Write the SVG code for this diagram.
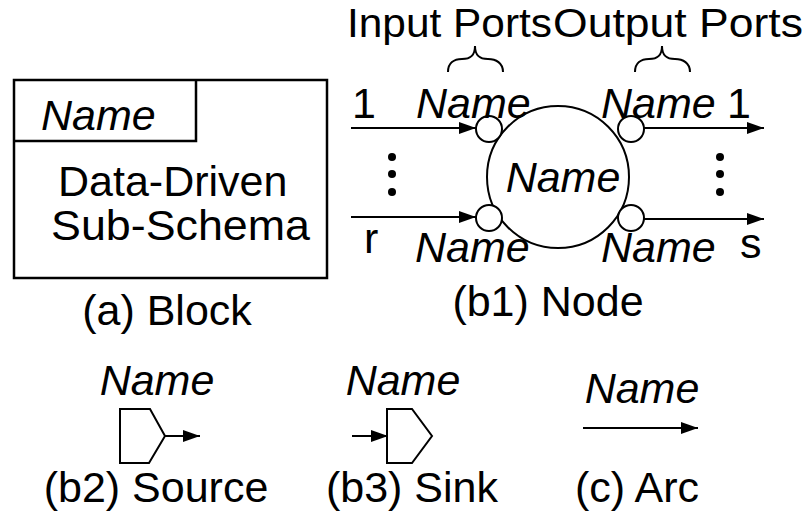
<svg xmlns="http://www.w3.org/2000/svg" width="808" height="512" viewBox="0 0 808 512">
  <style>
    text { font-family: "Liberation Sans", Arial, sans-serif; font-size: 43px; fill: #000; }
    .it { font-style: italic; }
    .mid { text-anchor: middle; }
    .head { font-size: 41px; }
    .ln { fill: none; stroke: #000; stroke-width: 2; }
    .shape { fill: #fff; stroke: #000; stroke-width: 2; }
    .arrow { fill: none; stroke: #000; stroke-width: 2; marker-end: url(#head); }
    .dot { fill: #000; }
  </style>
  <defs>
    <marker id="head" markerUnits="userSpaceOnUse" markerWidth="18" markerHeight="13" refX="17" refY="6.5" orient="auto">
      <path d="M0,0.5 L17,6.5 L0,12.5 z" fill="#000"/>
    </marker>
  </defs>

  <rect width="808" height="512" fill="#fff"/>

  <!-- (a) Block -->
  <g id="block">
    <rect x="14" y="80" width="313" height="198" fill="#fff" stroke="#000" stroke-width="2.5"/>
    <path d="M14,141 H196 V80" fill="none" stroke="#000" stroke-width="2.5"/>
    <text class="it" x="41" y="130">Name</text>
    <text x="58" y="196">Data-Driven</text>
    <text x="51" y="240" textLength="259" lengthAdjust="spacingAndGlyphs">Sub-Schema</text>
    <text class="mid" x="167" y="325">(a) Block</text>
  </g>

  <!-- (b1) Node -->
  <g id="node">
    <text class="head" x="347" y="37" textLength="205" lengthAdjust="spacingAndGlyphs">Input Ports</text>
    <text class="head" x="553" y="37" textLength="250" lengthAdjust="spacingAndGlyphs">Output Ports</text>
    <path class="ln" d="M448,72 C448,63 454,59 462,59 C470,59 475,56 475,46 C475,56 480,59 488,59 C496,59 503,63 503,72"/>
    <path class="ln" d="M635,72 C635,63 641,59 649,59 C657,59 662,56 662,46 C662,56 667,59 675,59 C683,59 690,63 690,72"/>
    <circle class="shape" cx="558" cy="177" r="71"/>
    <circle class="shape" cx="489" cy="129" r="13"/>
    <circle class="shape" cx="631" cy="129" r="13"/>
    <circle class="shape" cx="489" cy="218" r="13"/>
    <circle class="shape" cx="631" cy="218" r="13"/>
    <text class="it mid" x="563" y="192">Name</text>
    <text class="it" x="416" y="118">Name</text>
    <text class="it" x="601" y="118">Name</text>
    <text class="it" x="415" y="262">Name</text>
    <text class="it" x="601" y="262">Name</text>
    <text x="352" y="118">1</text>
    <text x="727" y="118">1</text>
    <text x="364" y="253">r</text>
    <text x="740" y="258">s</text>
    <circle class="dot" cx="392" cy="157" r="4"/>
    <circle class="dot" cx="392" cy="174" r="4"/>
    <circle class="dot" cx="392" cy="192" r="4"/>
    <circle class="dot" cx="720" cy="157" r="4"/>
    <circle class="dot" cx="720" cy="174" r="4"/>
    <circle class="dot" cx="720" cy="192" r="4"/>
    <text class="mid" x="548" y="316">(b1) Node</text>
  </g>

  <!-- (b2) Source -->
  <g id="source">
    <text class="it mid" x="157" y="395">Name</text>
    <path class="shape" d="M120,409 H150 L165,436 L149,463 H120 Z"/>
    <text class="mid" x="156" y="502">(b2) Source</text>
  </g>

  <!-- (b3) Sink -->
  <g id="sink">
    <text class="it mid" x="403" y="395">Name</text>
    <path class="shape" d="M387,409 H412 L432,436 L412,463 H387 Z"/>
    <text class="mid" x="412" y="502">(b3) Sink</text>
  </g>

  <!-- (c) Arc -->
  <g id="arc">
    <text class="it mid" x="642" y="403">Name</text>
    <text class="mid" x="637" y="502">(c) Arc</text>
  </g>

  <!-- connectors -->
  <g id="connectors">
    <line class="arrow" x1="351" y1="128" x2="476" y2="128"/>
    <line class="arrow" x1="644" y1="128" x2="764" y2="128"/>
    <line class="arrow" x1="351" y1="217" x2="476" y2="217"/>
    <line class="arrow" x1="644" y1="219" x2="764" y2="219"/>
    <line class="arrow" x1="165" y1="436" x2="200" y2="436"/>
    <line class="arrow" x1="352" y1="436" x2="388" y2="436"/>
    <line class="arrow" x1="583" y1="428" x2="698" y2="428"/>
  </g>
</svg>
